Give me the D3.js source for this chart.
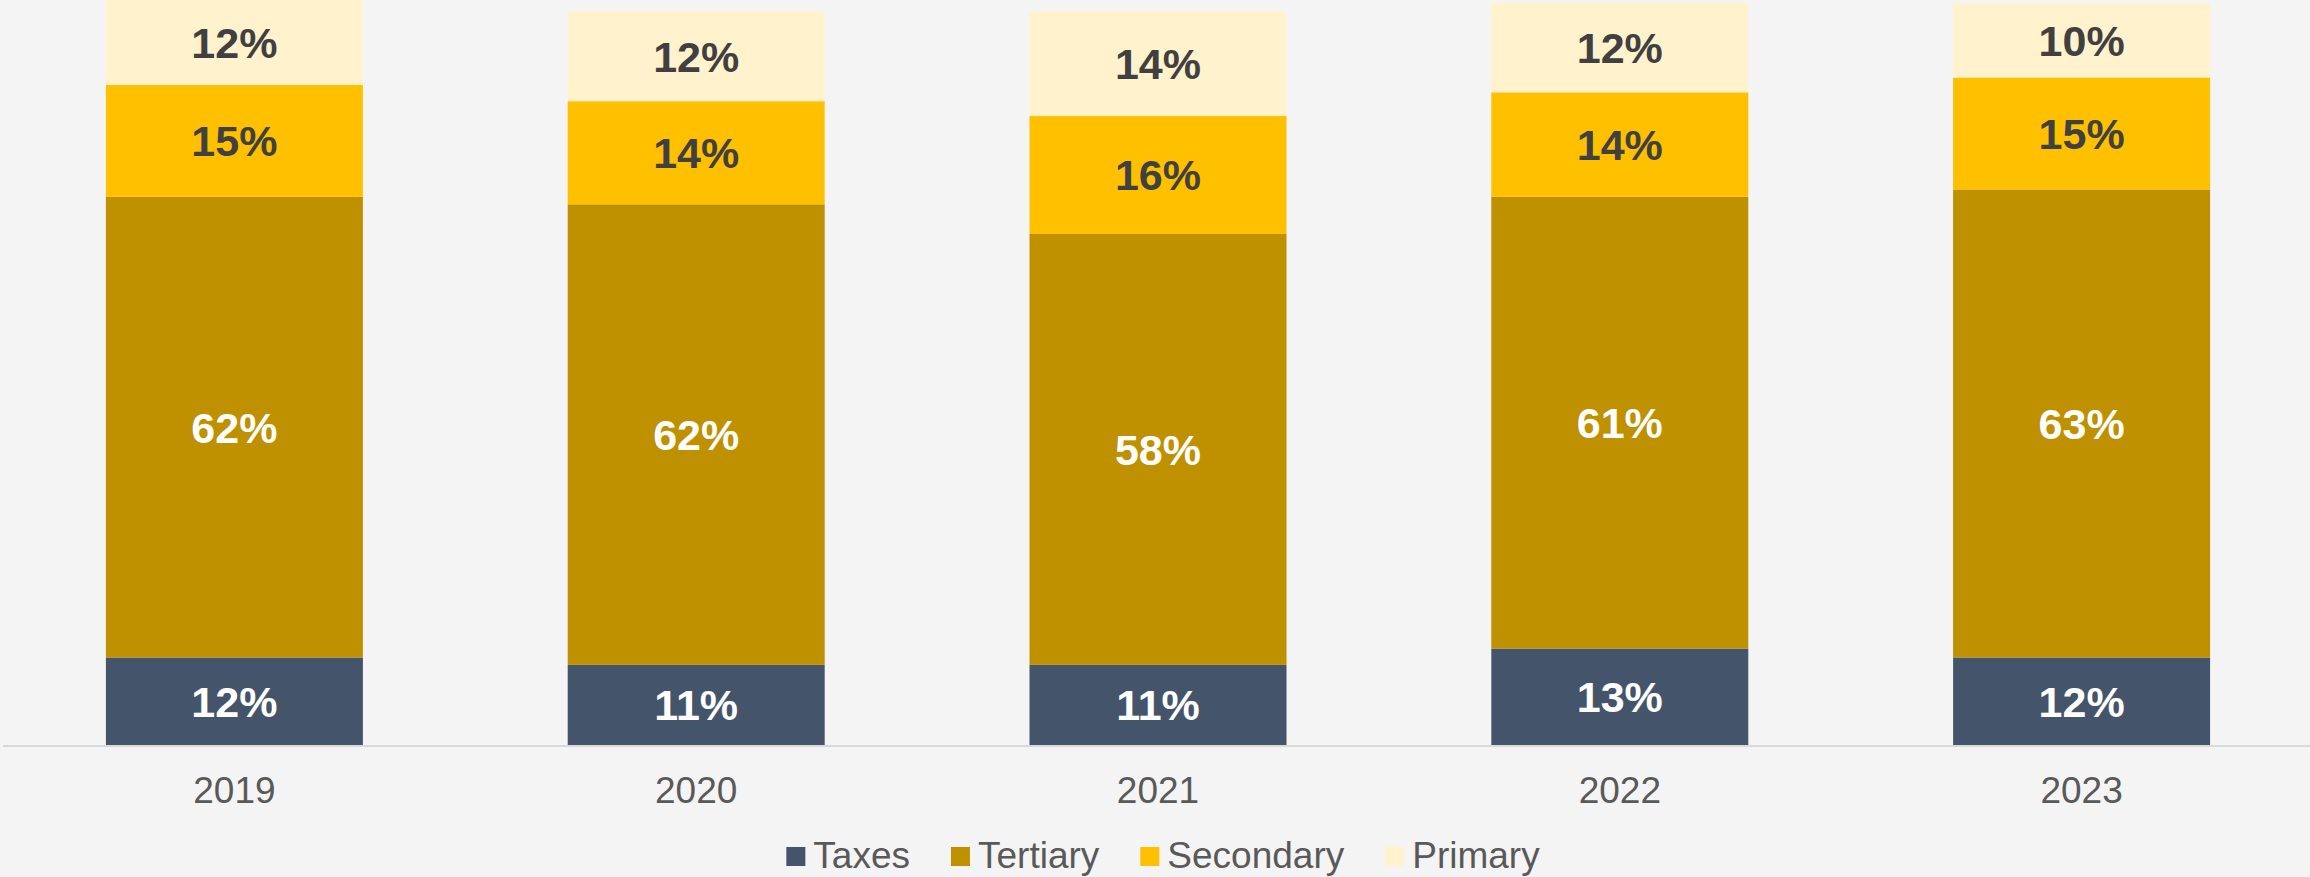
<!DOCTYPE html>
<html>
<head>
<meta charset="utf-8">
<script src="https://cdn.jsdelivr.net/npm/d3@7"></script>
<style>
  html, body { margin: 0; padding: 0; background: #f4f4f4; }
  svg { display: block; }
  text { font-family: "Liberation Sans", Arial, sans-serif; }
</style>
</head>
<body>
<svg id="chart" width="2310" height="877"></svg>
<script>
const years = ["2019", "2020", "2021", "2022", "2023"];
const seriesNames = ["Taxes", "Tertiary", "Secondary", "Primary"];
const taxes     = [11.8, 10.8, 10.8, 13.0, 11.8];
const tertiary  = [62.1, 62.1, 58.1, 60.9, 63.1];
const secondary = [15.1, 13.9, 15.9, 14.1, 15.1];
const primary   = [11.5, 12.1, 14.1, 12.1, 10.0];
const colors = ["#44546a", "#bf9000", "#ffc000", "#fff2cc"];
const labelColors = ["#ffffff", "#ffffff", "#404040", "#404040"];

const rows = years.map((y, i) => ({
  year: y, Taxes: taxes[i], Tertiary: tertiary[i], Secondary: secondary[i], Primary: primary[i]
}));

const W = 2310, H = 877;
const svg = d3.select("#chart");
svg.append("rect").attr("width", W).attr("height", H).attr("fill", "#f4f4f4");

const x = d3.scaleBand().domain(years).range([3.5, 2312.5])
  .paddingInner(0.4435).paddingOuter(0.22175);
const y = d3.scaleLinear().domain([0, 100]).range([745, 3.3]);

const stack = d3.stack().keys(seriesNames)(rows);

const groups = svg.selectAll("g.series").data(stack).join("g")
  .attr("class", "series").attr("fill", (d, i) => colors[i]);

groups.selectAll("rect").data(d => d).join("rect")
  .attr("x", d => x(d.data.year))
  .attr("width", x.bandwidth())
  .attr("y", d => y(d[1]))
  .attr("height", d => y(d[0]) - y(d[1]));

const fsLabel = 43;
stack.forEach((s, si) => {
  svg.append("g").selectAll("text").data(s).join("text")
    .attr("x", d => x(d.data.year) + x.bandwidth() / 2)
    .attr("y", d => (y(d[0]) + y(d[1])) / 2 + fsLabel * 0.358)
    .attr("text-anchor", "middle")
    .attr("font-size", fsLabel)
    .attr("font-weight", "bold")
    .attr("fill", labelColors[si])
    .text(d => Math.round(d[1] - d[0]) + "%");
});

// x axis
const axis = svg.append("g").attr("transform", "translate(0,746)")
  .call(d3.axisBottom(x).tickSize(0).tickPadding(0));
axis.select(".domain").remove();
svg.append("line").attr("x1", 3).attr("x2", W).attr("y1", 746).attr("y2", 746)
  .attr("stroke", "#d9d9d9").attr("stroke-width", 2);
axis.selectAll("text")
  .attr("y", 57).attr("dy", null)
  .attr("font-size", 37)
  .attr("font-family", "Liberation Sans, Arial, sans-serif")
  .attr("fill", "#595959");

// legend
const legend = svg.append("g");
const fsLeg = 37;
let cx = 0;
seriesNames.forEach((n, i) => {
  const g = legend.append("g").attr("transform", `translate(${cx},0)`);
  g.append("rect").attr("x", 0).attr("y", 847).attr("width", 19).attr("height", 19).attr("fill", colors[i]);
  const t = g.append("text").attr("x", 27).attr("y", 868).attr("font-size", fsLeg)
    .attr("fill", "#595959").text(n);
  const w = t.node().getComputedTextLength();
  cx += 27 + w + 41;
});
const total = cx - 41;
legend.attr("transform", `translate(${1163 - total / 2},0)`);
</script>
</body>
</html>
